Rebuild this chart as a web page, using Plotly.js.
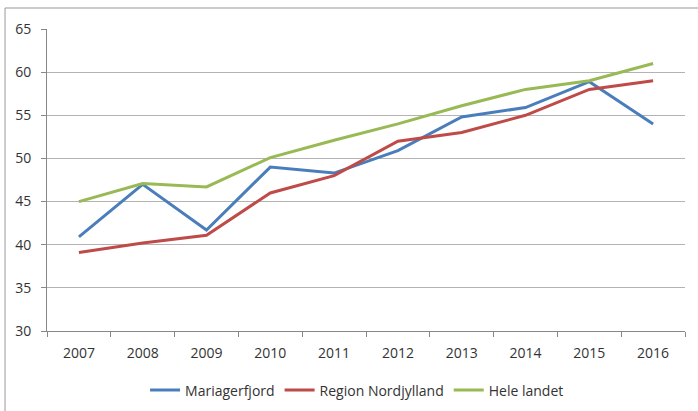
<!DOCTYPE html>
<html>
<head>
<meta charset="utf-8">
<script src="https://cdn.plot.ly/plotly-3.0.1.min.js"></script>
<style>html,body{margin:0;padding:0;background:#fff;}#chart{width:698px;height:411px;}</style>
</head>
<body>
<div id="chart"></div>
<script>
const years = ['2007','2008','2009','2010','2011','2012','2013','2014','2015','2016'];
const mariagerfjord = [40.9, 47.0, 41.7, 49.0, 48.3, 50.9, 54.8, 55.9, 58.9, 54.0];
const regionNordjylland = [39.1, 40.2, 41.1, 46.0, 48.0, 52.0, 53.0, 55.0, 58.0, 59.0];
const heleLandet = [45.0, 47.1, 46.7, 50.1, 52.1, 54.0, 56.1, 58.0, 59.0, 61.0];
const seriesNames = ['Mariagerfjord', 'Region Nordjylland', 'Hele landet'];
const yTicks = [30, 35, 40, 45, 50, 55, 60, 65];

const colors = ['#4A7EBB', '#BE4B48', '#98B954'];
const data = [mariagerfjord, regionNordjylland, heleLandet].map((v, i) => ({
  x: years, y: v, name: seriesNames[i], type: 'scatter', mode: 'lines',
  line: {color: colors[i], width: 3}
}));

const layout = {
  width: 698, height: 411,
  margin: {l: 47, r: 13, t: 29, b: 80, autoexpand: false},
  paper_bgcolor: '#fff', plot_bgcolor: '#fff',
  font: {family: 'Open Sans, sans-serif', size: 14, color: '#333'},
  showlegend: true,
  legend: {orientation: 'h', x: 0.486, xanchor: 'center', y: -0.197, yanchor: 'middle',
           font: {size: 14, color: '#333'}, traceorder: 'normal'},
  xaxis: {type: 'category', range: [-0.5, 9.5], tickson: 'boundaries', ticks: 'outside', ticklen: 5,
          tickcolor: '#888', showline: true, linecolor: '#888', linewidth: 1,
          showgrid: false, zeroline: false, fixedrange: true, ticklabelstandoff: 9},
  yaxis: {range: [30, 65], tickvals: yTicks, ticks: 'outside', ticklen: 5,
          tickcolor: '#888', showline: true, linecolor: '#888', linewidth: 1,
          gridcolor: '#B3B3B3', gridwidth: 1, zeroline: false, fixedrange: true,
          ticklabelstandoff: 7},
  shapes: [
    {type: 'line', xref: 'paper', yref: 'paper', x0: -0.0658, x1: -0.0658, y0: -0.27, y1: 1.0695,
     line: {color: '#999', width: 1}},
    {type: 'line', xref: 'paper', yref: 'paper', x0: -0.0658, x1: 1.03, y0: 1.0695, y1: 1.0695,
     line: {color: '#999', width: 1}}
  ]
};
Plotly.newPlot('chart', data, layout, {displayModeBar: false, staticPlot: true});
</script>
</body>
</html>
